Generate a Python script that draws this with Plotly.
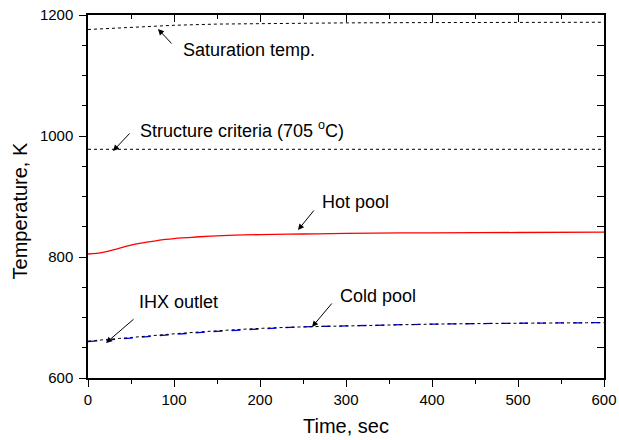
import plotly.graph_objects as go

# ---- data (Time in sec, Temperature in K) ----
sat_t = [0, 25, 50, 100, 150, 200, 300, 400, 500, 600]
sat_T = [1176, 1178, 1180, 1183, 1185, 1186, 1187, 1187.5, 1188, 1188]

struct_t = [0, 600]
struct_T = [978, 978]

hot_t = [0, 10, 20, 30, 40, 50, 60, 70, 80, 90, 100, 115, 130, 150, 170, 200, 250, 300, 400, 500, 600]
hot_T = [805, 806, 808.5, 812, 816, 819.5, 822.5, 825, 827, 829, 830.5, 832, 833.5, 835, 836, 837, 838, 839, 840, 840.5, 841]

cold_t = [0, 50, 100, 150, 200, 250, 300, 400, 500, 600]
cold_T = [660, 666, 672, 677, 681, 684.5, 686, 689, 690.5, 691.5]

ihx_t = [0, 50, 100, 150, 200, 250, 300, 400, 500, 600]
ihx_T = [661, 667, 673, 678, 682, 684.5, 686, 689, 690.5, 691.5]

x_range = [0, 600]
y_range = [600, 1200]

FONT = "Liberation Sans, Arial, sans-serif"

fig = go.Figure()
fig.add_trace(go.Scatter(x=sat_t, y=sat_T, mode="lines",
                         line=dict(color="black", width=1, dash="dot"), showlegend=False))
fig.add_trace(go.Scatter(x=struct_t, y=struct_T, mode="lines",
                         line=dict(color="black", width=1, dash="dot"), showlegend=False))
fig.add_trace(go.Scatter(x=hot_t, y=hot_T, mode="lines", line_shape="spline",
                         line=dict(color="red", width=1.3), showlegend=False))
fig.add_trace(go.Scatter(x=cold_t, y=cold_T, mode="lines", line_shape="spline",
                         line=dict(color="blue", width=1.3, dash="dash"), showlegend=False))
fig.add_trace(go.Scatter(x=ihx_t, y=ihx_T, mode="lines", line_shape="spline",
                         line=dict(color="black", width=1, dash="dot"), showlegend=False))
# invisible trace to anchor the mirrored axes
fig.add_trace(go.Scatter(x=x_range, y=y_range, mode="markers", xaxis="x2", yaxis="y2",
                         marker=dict(opacity=0), hoverinfo="skip", showlegend=False))

axis_common = dict(showgrid=False, zeroline=False, linecolor="black", linewidth=1.5,
                   tickcolor="black", tickwidth=1.2, automargin=False)

fig.update_layout(
    width=619, height=440,
    margin=dict(l=88, r=15, t=15, b=62),
    paper_bgcolor="white", plot_bgcolor="white",
    font=dict(family=FONT, color="black"),
    xaxis=dict(range=x_range, dtick=100, ticks="outside", ticklen=7,
               tickfont=dict(size=15),
               title=dict(text="Time, sec", font=dict(size=20), standoff=12),
               minor=dict(dtick=50, ticks="outside", ticklen=4, tickcolor="black", tickwidth=1.2),
               **axis_common),
    yaxis=dict(range=y_range, dtick=200, ticks="outside", ticklen=7,
               tickfont=dict(size=15), ticklabelstandoff=3,
               minor=dict(dtick=50, ticks="outside", ticklen=4, tickcolor="black", tickwidth=1.2),
               **axis_common),
    xaxis2=dict(range=x_range, dtick=100, ticks="inside", ticklen=7, overlaying="x",
                side="top", showticklabels=False, anchor="y2",
                minor=dict(dtick=50, ticks="inside", ticklen=4, tickcolor="black", tickwidth=1.2),
                **axis_common),
    yaxis2=dict(range=y_range, dtick=200, ticks="inside", ticklen=7, overlaying="y",
                side="right", showticklabels=False, anchor="x2",
                minor=dict(dtick=50, ticks="inside", ticklen=7, tickcolor="black", tickwidth=1.2),
                **axis_common),
)

# y-axis title (placed as in the reference, slightly below the plot centre)
fig.add_annotation(text="Temperature, K", xref="paper", yref="paper", x=-0.131, y=0.46,
                   textangle=-90, showarrow=False, xanchor="center", yanchor="middle",
                   font=dict(size=20, family=FONT, color="black"))

# text labels: (text, x, y)
labels = [
    ("Saturation temp.", 108, 1142.6),
    ("Structure criteria (705 <sup>o</sup>C)", 58, 1010.7),
    ("Hot pool", 270, 891.7),
    ("IHX outlet", 57, 726.4),
    ("Cold pool", 291, 735.5),
]
for txt, x, y in labels:
    fig.add_annotation(x=x, y=y, text=txt, showarrow=False, xanchor="left", yanchor="middle",
                       font=dict(size=18, family=FONT, color="black"))

# arrows: (head_x, head_y, tail_x, tail_y)
arrows = [
    (81.4, 1176.9, 98.8, 1150.4),
    (29.1, 975.2, 50.0, 1006.6),
    (244.2, 844.6, 264.0, 879.3),
    (20.9, 657.9, 54.7, 699.2),
    (260.5, 684.3, 284.9, 725.6),
]
for hx, hy, tx, ty in arrows:
    fig.add_annotation(x=hx, y=hy, ax=tx, ay=ty, xref="x", yref="y", axref="x", ayref="y",
                       text="", showarrow=True, arrowhead=2, arrowsize=1.2, arrowwidth=1,
                       arrowcolor="black")

fig.write_html("out.html")
